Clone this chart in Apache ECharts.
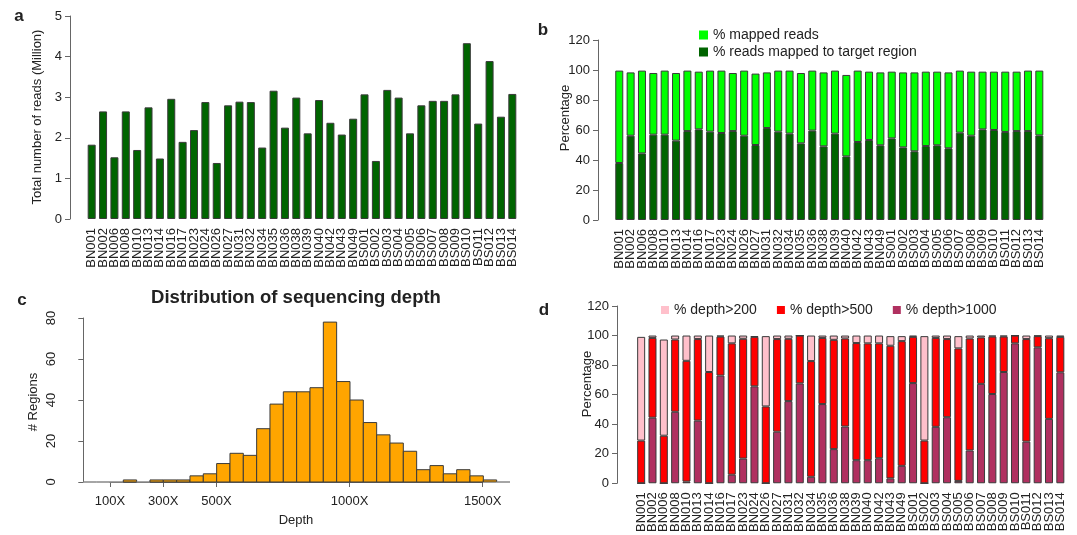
<!DOCTYPE html>
<html>
<head>
<meta charset="utf-8">
<script src="https://cdn.jsdelivr.net/npm/echarts@6/dist/echarts.min.js"></script>
<style>
html,body{margin:0;padding:0;background:#fff;}
#main{width:1077px;height:535px;}
</style>
</head>
<body>
<div id="main"></div>
<script>
// samples (x axis of a, b, d)
var samples = ['BN001','BN002','BN006','BN008','BN010','BN013','BN014','BN016','BN017','BN023','BN024','BN026','BN027','BN031','BN032','BN034','BN035','BN036','BN038','BN039','BN040','BN042','BN043','BN049','BS001','BS002','BS003','BS004','BS005','BS006','BS007','BS008','BS009','BS010','BS011','BS012','BS013','BS014'];

// a: total reads (million)
var totalReads = [1.83,2.65,1.52,2.65,1.70,2.75,1.49,2.96,1.90,2.19,2.88,1.38,2.80,2.89,2.88,1.76,3.16,2.25,2.99,2.11,2.93,2.37,2.08,2.47,3.07,1.43,3.18,2.99,2.11,2.80,2.91,2.91,3.07,4.33,2.35,3.89,2.52,3.08];

// b: % mapped reads, % mapped to target region
var mappedReads = [99.6,98.4,99.6,98,99.6,98,99.6,98.9,99.6,99.6,98,99.6,97.6,98.4,99.6,99.6,98,99.6,98.4,99.6,96.7,99.6,98.9,98.4,98.9,98.4,98.4,98.9,98.9,98.4,99.6,98.9,98.9,98.9,98.9,98.9,99.6,99.6];
var targetReads = [38,56.2,44.4,56.9,56.9,52.9,59.3,60.4,58.9,58,59.3,56.2,50,61.3,58.9,57.6,51.1,59.6,49.1,57.6,42.4,52,53.3,49.8,54.4,48.4,45.8,49.3,49.8,47.8,58.2,56.2,60.4,60,58.7,59.3,59.3,56.4];

// c: depth histogram
var binEdges = [0,50,100,150,200,250,300,350,400,450,500,550,600,650,700,750,800,850,900,950,1000,1050,1100,1150,1200,1250,1300,1350,1400,1450,1500,1550,1600];
var binCounts = [0,0,0,1,0,1,1,1,3,4,9,14,13,26,38,44,44,46,78,49,40,29,23,19,15,6,8,4,6,3,1,0];
var depthTicks = [100,300,500,1000,1500];

// d: % of target with depth above thresholds
var depth200 = [99.1,100,97.3,100,100,100,100,100,100,100,99.6,99.6,100,100,100,100,100,100,100,100,100,100,99.6,99.6,100,99.6,100,100,99.6,100,100,100,100,100,100,100,100,100];
var depth500 = [28.9,98.4,32.2,97.3,82.9,97.6,75.3,99.3,94.7,97.8,99.1,52,97.6,97.8,100,82.7,98.4,97.1,98,94.9,94.7,94.7,93.1,96.2,99.1,28.9,98.4,97.6,91.3,98,98.7,99.3,99.3,100,97.6,99.6,98.2,99.1];
var depth1000 = [0,44.4,0,48.4,1.1,42.4,0,72.9,5.8,16.7,65.6,0,34.9,55.6,67.6,4.4,53.6,23.1,38.4,15.6,15.6,16.9,3.3,11.8,67.8,0,38.2,44.7,1.6,22.2,67.3,60.4,75.3,94.7,28.2,92,43.6,75.1];

function diff(a, b){
    return a.map(function(v, i){ return +Math.max(0, v - b[i]).toFixed(2); });
}

var FONT = 'Liberation Sans, Arial, sans-serif';
var AXC = '#666';
var TXT = '#222';
var EDGE = '#3a3a3a';

function catAxis(grid){
    return {
        type:'category', gridIndex:grid, data:samples,
        axisLine:{show:false}, axisTick:{show:false},
        axisLabel:{interval:0, rotate:90, fontSize:13, color:TXT, fontFamily:FONT, margin:9}
    };
}
function valAxis(grid, max, interval, offset, rot){
    return {
        type:'value', gridIndex:grid, min:0, max:max, interval:interval, offset:offset,
        axisLine:{show:true, lineStyle:{color:AXC, width:1}},
        axisTick:{show:true, length:5, lineStyle:{color:AXC}},
        axisLabel:{fontSize:13, color:TXT, fontFamily:FONT, margin:8, rotate:rot || 0},
        splitLine:{show:false}
    };
}
function label(x, y, text, size, bold, rot){
    return {
        type:'text', x:x, y:y, rotation:rot || 0,
        style:{text:text, fill:TXT, font:(bold ? 'bold ' : '') + size + 'px ' + FONT, align:'center', verticalAlign:'middle'}
    };
}

var chart = echarts.init(document.getElementById('main'));

var option = {
    animation:false,
    backgroundColor:'#fff',
    textStyle:{fontFamily:FONT},
    grid:[
        {left:86, top:16, width:432, height:203},
        {left:613.6, top:40, width:431.4, height:180},
        {left:83.3, top:318, width:426.7, height:164},
        {left:110, top:318, width:372.7, height:164},
        {left:635.5, top:306, width:430.5, height:180}
    ],
    xAxis:[
        catAxis(0),
        catAxis(1),
        {type:'value', gridIndex:2, min:0, max:1600, show:false},
        {
            type:'value', gridIndex:3, min:100, max:1500, offset:7,
            axisLine:{show:true, lineStyle:{color:AXC}},
            axisTick:{show:true, length:5, customValues:depthTicks, lineStyle:{color:AXC}},
            axisLabel:{
                customValues:depthTicks, fontSize:13, color:TXT, fontFamily:FONT, margin:6,
                formatter:function(v){ return v + 'X'; }
            },
            splitLine:{show:false}
        },
        catAxis(4)
    ],
    yAxis:[
        valAxis(0, 5, 1, 16),
        valAxis(1, 120, 20, 15.6),
        valAxis(2, 80, 20, 17.3, 90),
        {type:'value', gridIndex:3, min:0, max:80, show:false},
        valAxis(4, 120, 20, 18.5)
    ],
    legend:[
        {
            orient:'vertical', left:694, top:23, itemWidth:9, itemHeight:9, itemGap:3, icon:'rect',
            itemStyle:{borderWidth:0},
            data:['% mapped reads','% reads mapped to target region'],
            textStyle:{fontSize:14, color:TXT, fontFamily:FONT}
        },
        {
            orient:'horizontal', left:656, top:298, itemWidth:8, itemHeight:8, itemGap:20, icon:'rect',
            itemStyle:{borderWidth:0},
            data:['% depth>200','% depth>500','% depth>1000'],
            textStyle:{fontSize:14, color:TXT, fontFamily:FONT}
        }
    ],
    series:[
        {
            name:'Total reads', type:'bar', xAxisIndex:0, yAxisIndex:0, data:totalReads, barWidth:8,
            itemStyle:{color:'#006400', borderColor:EDGE, borderWidth:1}
        },
        {
            name:'% reads mapped to target region', type:'bar', stack:'b', xAxisIndex:1, yAxisIndex:1,
            data:targetReads, barWidth:8,
            itemStyle:{color:'#006400', borderColor:EDGE, borderWidth:1}
        },
        {
            name:'% mapped reads', type:'bar', stack:'b', xAxisIndex:1, yAxisIndex:1,
            data:diff(mappedReads, targetReads), barWidth:8,
            itemStyle:{color:'#00FF00', borderColor:EDGE, borderWidth:1}
        },
        {
            name:'depth', type:'custom', xAxisIndex:2, yAxisIndex:2,
            data:binCounts.map(function(c, i){ return [binEdges[i], binEdges[i + 1], c]; }),
            renderItem:function(params, api){
                var p0 = api.coord([api.value(0), api.value(2)]);
                var p1 = api.coord([api.value(1), 0]);
                return {
                    type:'rect',
                    shape:{x:p0[0], y:p0[1], width:p1[0] - p0[0], height:p1[1] - p0[1]},
                    style:{fill:'#FFA500', stroke:api.value(2) > 0 ? EDGE : '#888', lineWidth:1}
                };
            }
        },
        {
            name:'% depth>1000', type:'bar', stack:'d', xAxisIndex:4, yAxisIndex:4,
            data:depth1000, barWidth:8,
            itemStyle:{color:'#B03060', borderColor:EDGE, borderWidth:1}
        },
        {
            name:'% depth>500', type:'bar', stack:'d', xAxisIndex:4, yAxisIndex:4,
            data:diff(depth500, depth1000), barWidth:8,
            itemStyle:{color:'#FF0000', borderColor:EDGE, borderWidth:1}
        },
        {
            name:'% depth>200', type:'bar', stack:'d', xAxisIndex:4, yAxisIndex:4,
            data:diff(depth200, depth500), barWidth:8,
            itemStyle:{color:'#FFC0CB', borderColor:EDGE, borderWidth:1}
        }
    ],
    graphic:[
        label(19, 16, 'a', 17, true),
        label(543, 30, 'b', 17, true),
        label(22, 300, 'c', 17, true),
        label(544, 310, 'd', 17, true),
        label(37, 117, 'Total number of reads (Million)', 13, false, Math.PI / 2),
        label(565, 118, 'Percentage', 13, false, Math.PI / 2),
        label(33, 402, '# Regions', 13, false, Math.PI / 2),
        label(587, 384, 'Percentage', 13, false, Math.PI / 2),
        label(296, 298, 'Distribution of sequencing depth', 18.5, true),
        label(296, 520, 'Depth', 13, false)
    ]
};

chart.setOption(option);
</script>
</body>
</html>
